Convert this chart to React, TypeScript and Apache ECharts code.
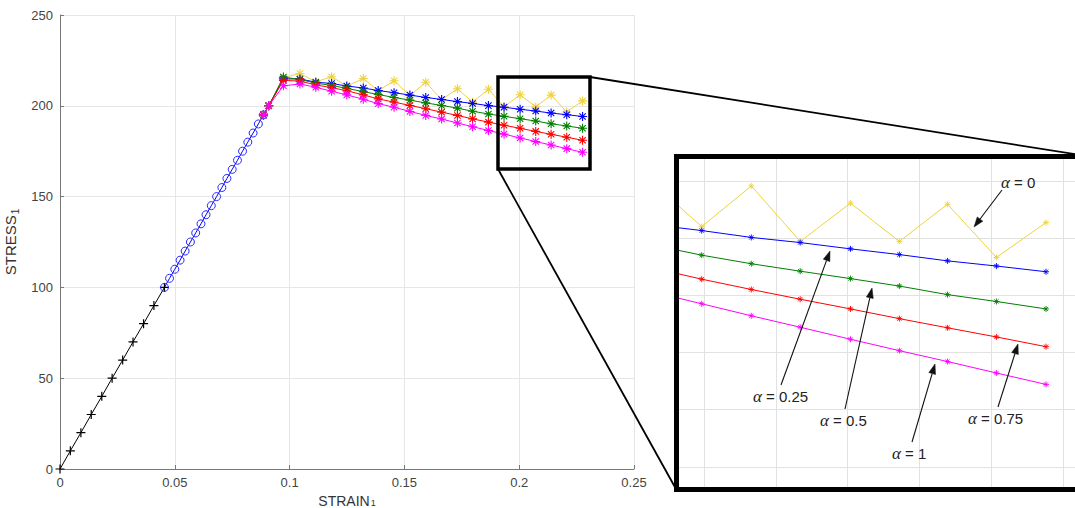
import React, { useEffect, useRef } from "react";
import * as echarts from "echarts";

// ---- data ----
const elasticStrain = [0, 0.0045, 0.0091, 0.0136, 0.0182, 0.0227, 0.0273, 0.0318, 0.0364, 0.0409, 0.0455];
const elasticStress = [0, 10, 20, 30, 40, 50, 60, 70, 80, 90, 100];

const transStrain = [0.0455, 0.0477, 0.05, 0.0523, 0.0545, 0.0568, 0.0591, 0.0614, 0.0636, 0.0659, 0.0682, 0.0705, 0.0727, 0.075, 0.0773, 0.0795, 0.0818, 0.0841, 0.0864, 0.0886];
const transStress = [100, 105, 110, 115, 120, 125, 130, 135, 140, 145, 150, 155, 160, 165, 170, 175, 180, 185, 190, 195];

const plasticStrain = [0.0886, 0.0909, 0.0973, 0.1045, 0.1114, 0.1183, 0.1249, 0.1321, 0.1386, 0.1455, 0.1524, 0.1593, 0.1662, 0.1731, 0.1797, 0.1866, 0.1934, 0.2004, 0.2072, 0.2139, 0.2207, 0.2276];
const stressAlpha0 = [195, 200, 215.5, 217.8, 213.2, 216.0, 210.8, 215.0, 208.3, 213.8, 205.6, 213.0, 203.4, 209.4, 202.0, 209.1, 199.4, 206.1, 199.4, 205.9, 196.6, 202.7];
const stressAlpha025 = [195, 200, 214.8, 214.8, 213.0, 212.3, 210.9, 209.8, 208.4, 207.2, 205.9, 204.6, 203.5, 202.3, 201.3, 200.1, 199.2, 198.1, 197.1, 196.0, 195.1, 194.1];
const stressAlpha05 = [195, 200, 215.8, 214.5, 212.5, 211.2, 209.6, 207.8, 206.2, 204.6, 203.1, 201.6, 200.2, 198.7, 197.0, 195.5, 194.2, 192.9, 191.6, 190.1, 188.9, 187.6];
const stressAlpha075 = [195, 200, 214.0, 213.6, 211.5, 210.0, 208.3, 206.0, 203.8, 202.0, 200.2, 198.4, 196.5, 194.7, 192.8, 191.0, 189.3, 187.6, 185.9, 184.3, 182.7, 181.0];
const stressAlpha1 = [195, 200, 211.0, 212.0, 210.2, 208.0, 206.0, 203.6, 201.2, 199.2, 196.9, 194.7, 192.7, 190.5, 188.5, 186.4, 184.4, 182.3, 180.3, 178.4, 176.4, 174.4];

const alphaNames = ["α = 0", "α = 0.25", "α = 0.5", "α = 0.75", "α = 1"];
const alphaColors = ["#EFD23C", "#0000FF", "#008000", "#FF0000", "#FF00FF"];

const insetXGrid = [0.18, 0.19, 0.2, 0.21, 0.22, 0.23];
const insetYGrid = [160, 170, 180, 190, 200, 210];

const zip = (xs: number[], ys: number[]) => xs.map((x, i) => [x, ys[i]]);

const PLUS = "path://M5,0 L5,10 M0,5 L10,5";
const STAR = "path://M5,0 L5,10 M0,5 L10,5 M1.5,1.5 L8.5,8.5 M1.5,8.5 L8.5,1.5";

function arrow(x1: number, y1: number, x2: number, y2: number) {
  const dx = x2 - x1, dy = y2 - y1;
  const len = Math.sqrt(dx * dx + dy * dy);
  const ux = dx / len, uy = dy / len;
  const L = 10, W = 3.5;
  const bx = x2 - ux * L, by = y2 - uy * L;
  return [
    { type: "line", z: 100, silent: true, shape: { x1, y1, x2: bx, y2: by }, style: { stroke: "#111", lineWidth: 1.1 } },
    {
      type: "polygon", z: 100, silent: true,
      shape: { points: [[x2, y2], [bx - uy * W, by + ux * W], [bx + uy * W, by - ux * W]] },
      style: { fill: "#111", stroke: "#111", lineWidth: 0.5 },
    },
  ];
}

function label(text: string, x: number, y: number) {
  const rest = text.replace("α", "");
  return {
    type: "text", z: 100, silent: true, x, y,
    style: {
      text: "{a|α}{b|" + rest + "}",
      verticalAlign: "middle",
      rich: {
        a: { fontFamily: "Liberation Serif", fontStyle: "italic", fontSize: 17, fill: "#222" },
        b: { fontFamily: "Liberation Sans", fontSize: 15, fill: "#222" },
      },
    },
  };
}

export default function App() {
  const ref = useRef<HTMLDivElement>(null);
  useEffect(() => {
    document.body.style.margin = "0";
    const chart = echarts.init(ref.current!, null, { renderer: "svg" });
    const alphaData = [stressAlpha0, stressAlpha025, stressAlpha05, stressAlpha075, stressAlpha1];
    const axisColor = "#777";
    const font = "Liberation Sans";

    const mainSeries: any[] = [
      {
        type: "line", xAxisIndex: 0, yAxisIndex: 0, data: zip(elasticStrain, elasticStress),
        symbol: PLUS, symbolSize: 9, lineStyle: { color: "#000", width: 1 },
        itemStyle: { color: "rgba(0,0,0,0)", borderColor: "#000", borderWidth: 1.2 }, z: 3,
      },
      {
        type: "line", xAxisIndex: 0, yAxisIndex: 0, data: zip(transStrain, transStress),
        symbol: "circle", symbolSize: 8, lineStyle: { color: "#0000FF", width: 1 },
        itemStyle: { color: "rgba(0,0,0,0)", borderColor: "#2a2aff", borderWidth: 1 }, z: 3,
      },
    ];
    const alphaSeries = (axis: number, size: number, bw: number) =>
      alphaData.map((d, i) => ({
        type: "line", name: alphaNames[i], xAxisIndex: axis, yAxisIndex: axis,
        data: zip(plasticStrain, d), symbol: STAR, symbolSize: size,
        lineStyle: { color: alphaColors[i], width: 1 },
        itemStyle: { color: "rgba(0,0,0,0)", borderColor: alphaColors[i], borderWidth: bw },
        z: 4 + i, clip: true,
      }));

    const gridSeries = {
      type: "line", xAxisIndex: 1, yAxisIndex: 1, data: [], silent: true, z: 1,
      markLine: {
        silent: true, z: 1, symbol: ["none", "none"], label: { show: false },
        lineStyle: { color: "#e2e2e2", width: 1, type: "solid" },
        emphasis: { disabled: true },
        data: [...insetXGrid.map((v) => ({ xAxis: v })), ...insetYGrid.map((v) => ({ yAxis: v }))],
      },
    };

    const graphics: any[] = [
      { type: "rect", z: 100, silent: true, shape: { x: 498, y: 77, width: 92, height: 92 }, style: { fill: "none", stroke: "#000", lineWidth: 3.5 } },
      { type: "line", z: 100, silent: true, shape: { x1: 590, y1: 77, x2: 1080, y2: 155 }, style: { stroke: "#000", lineWidth: 1.8 } },
      { type: "line", z: 100, silent: true, shape: { x1: 498, y1: 169, x2: 676, y2: 489 }, style: { stroke: "#000", lineWidth: 1.8 } },
      { type: "rect", z: 100, silent: true, shape: { x: 676.5, y: 156.5, width: 500, height: 333 }, style: { fill: "none", stroke: "#000", lineWidth: 5 } },
      ...arrow(1002, 190, 974, 227),
      ...arrow(781, 385, 830, 251),
      ...arrow(845, 409, 872, 288),
      ...arrow(998, 407, 1018, 344),
      ...arrow(912, 442, 935, 364),
      label(alphaNames[0], 1001, 182),
      label(alphaNames[1], 753, 396),
      label(alphaNames[2], 820, 420),
      label(alphaNames[3], 968, 418),
      label(alphaNames[4], 892, 453),
    ];

    chart.setOption({
      animation: false,
      backgroundColor: "#fff",
      grid: [
        { left: 60, top: 15, width: 574, height: 454, containLabel: false, outerBoundsMode: "none" },
        { left: 679, top: 159, width: 420, height: 328, containLabel: false, outerBoundsMode: "none" },
      ],
      xAxis: [
        {
          type: "value", gridIndex: 0, min: 0, max: 0.25, interval: 0.05,
          axisLine: { show: true, onZero: false, lineStyle: { color: axisColor } },
          axisTick: { show: true, inside: true, length: 4, lineStyle: { color: axisColor } },
          axisLabel: { color: "#444", fontSize: 13, fontFamily: font, margin: 7 },
          splitLine: { show: true, lineStyle: { color: "#e6e6e6" } },
          name: "STRAIN{s|1}", nameLocation: "middle", nameGap: 20,
          nameTextStyle: {
            color: "#333", fontSize: 14, fontFamily: font,
            rich: { s: { fontSize: 9, fontFamily: font, color: "#333", padding: [5, 0, 0, 1] } },
          },
        },
        { type: "value", gridIndex: 1, min: 0.17654, max: 0.23497, show: false, splitLine: { show: false } },
      ],
      yAxis: [
        {
          type: "value", gridIndex: 0, min: 0, max: 250, interval: 50,
          axisLine: { show: true, onZero: false, lineStyle: { color: axisColor } },
          axisTick: { show: true, inside: true, length: 4, lineStyle: { color: axisColor } },
          axisLabel: { color: "#444", fontSize: 13, fontFamily: font, margin: 7 },
          splitLine: { show: true, lineStyle: { color: "#e6e6e6" } },
          name: "STRESS{s|1}", nameLocation: "middle", nameGap: 34, nameRotate: 90,
          nameTextStyle: {
            color: "#333", fontSize: 15, fontFamily: font,
            rich: { s: { fontSize: 10, fontFamily: font, color: "#333", padding: [9, 0, 0, 1] } },
          },
        },
        { type: "value", gridIndex: 1, min: 156.47, max: 213.81, show: false, splitLine: { show: false } },
      ],
      series: [gridSeries, ...mainSeries, ...alphaSeries(0, 9, 1.1), ...alphaSeries(1, 6, 0.9)],
      graphic: { elements: graphics },
    });
    return () => chart.dispose();
  }, []);
  return <div ref={ref} style={{ width: 1075, height: 508 }} />;
}
